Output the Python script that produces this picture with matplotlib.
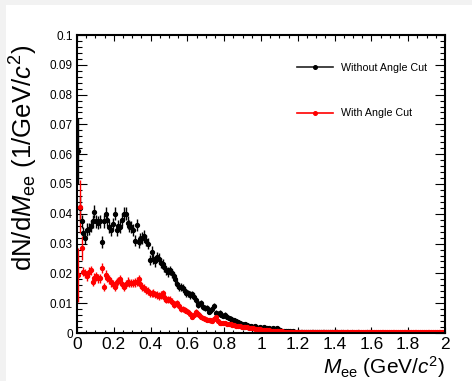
import numpy as np
import matplotlib
matplotlib.use("Agg")
from matplotlib import pyplot as plt
from matplotlib.lines import Line2D
from matplotlib.patches import Rectangle
from matplotlib.ticker import MultipleLocator, FormatStrFormatter

plt.rcParams['font.family'] = ['Liberation Sans', 'DejaVu Sans']
plt.rcParams['mathtext.fontset'] = 'custom'
plt.rcParams['mathtext.rm'] = 'Liberation Sans'
plt.rcParams['mathtext.it'] = 'Liberation Sans:italic'

# dN/dMee histograms, 0.01 GeV/c^2 bins from 0 to 2
bin_width = 0.01
without_cut = [
    0.061, 0.042, 0.0375, 0.0335, 0.032, 0.0347, 0.035, 0.036, 0.0375, 0.0407,
    0.0375, 0.037, 0.0375, 0.0306, 0.0375, 0.040, 0.038, 0.0355, 0.0345, 0.0365,
    0.040, 0.0345, 0.036, 0.0355, 0.038, 0.040, 0.040, 0.037, 0.036, 0.0355,
    0.0345, 0.031, 0.0362, 0.0305, 0.0315, 0.032, 0.0325, 0.031, 0.030, 0.0245,
    0.0273, 0.025, 0.024, 0.0255, 0.025, 0.0235, 0.023, 0.022, 0.021, 0.0205,
    0.021, 0.020, 0.019, 0.018, 0.0165, 0.0155, 0.0155, 0.015, 0.014, 0.0133,
    0.0133, 0.0128, 0.013, 0.0122, 0.011, 0.0095, 0.0098, 0.010, 0.0088, 0.0083,
    0.0083, 0.0072, 0.0075, 0.008, 0.009, 0.0067, 0.0065, 0.0067, 0.0061, 0.0058,
    0.0061, 0.0055, 0.005, 0.0048, 0.0045, 0.0042, 0.004, 0.0036, 0.0033, 0.0031,
    0.0028, 0.003, 0.0026, 0.0022, 0.0024, 0.002, 0.0022, 0.0019, 0.0018, 0.002,
    0.0017, 0.0019, 0.0015, 0.0018, 0.0016, 0.0014, 0.0017, 0.0015, 0.0018, 0.0013,
    0.0009, 0.0008, 0.0007, 0.0008, 0.0006, 0.0007, 0.0005, 0.0006, 0.0005, 0.0004,
    0.0004, 0.0005, 0.0003, 0.0004, 0.0004, 0.0003, 0.0003, 0.0004, 0.0002, 0.0003,
    0.0003, 0.0002, 0.0003, 0.0002, 0.0003, 0.0002, 0.0002, 0.0003, 0.0002, 0.0002,
    0.0002, 0.0002, 0.0001, 0.0002, 0.0002, 0.0001, 0.0002, 0.0001, 0.0001, 0.0002,
    0.0001, 0.0001, 0.0002, 0.0001, 0.0001, 0.0001, 0.0001, 0.0002, 0.0001, 0.0001,
    0.0001, 0.0001, 0.0001, 0.0001, 0.0001, 0.0001, 0.00005, 0.0001, 0.0001, 0.00005,
    0.0001, 0.00005, 0.0001, 0.0001, 0.00005, 0.0001, 0.00005, 0.00005, 0.0001, 0.00005,
    0.00005, 0.0001, 0.00005, 0.00005, 0.0001, 0.00005, 0.00005, 0.00005, 0.0001, 0.00005,
    0.00005, 0.00005, 0.0001, 0.00005, 0.00005, 0.00005, 0.00005, 0.0001, 0.00005, 0.00005,
]
with_cut = [
    0.0195, 0.0424, 0.0285, 0.0206, 0.020, 0.019, 0.0205, 0.021, 0.0172, 0.0185,
    0.019, 0.0183, 0.0183, 0.0218, 0.0155, 0.0195, 0.0185, 0.018, 0.017, 0.0165,
    0.0155, 0.017, 0.0175, 0.018, 0.0165, 0.0155, 0.0165, 0.0172, 0.0168, 0.0167,
    0.0167, 0.017, 0.0172, 0.018, 0.0165, 0.0155, 0.015, 0.0145, 0.014, 0.0133,
    0.0133, 0.0135, 0.013, 0.0127, 0.0124, 0.0128, 0.0133, 0.012, 0.0111, 0.0113,
    0.0111, 0.0105, 0.0095, 0.0098, 0.010, 0.009, 0.008, 0.0082, 0.0077, 0.0075,
    0.0072, 0.0065, 0.0055, 0.0062, 0.007, 0.0065, 0.006, 0.0055, 0.005, 0.0048,
    0.0045, 0.0043, 0.0042, 0.004, 0.0048, 0.0055, 0.004, 0.0033, 0.0035, 0.0034,
    0.0033, 0.0031, 0.003, 0.0029, 0.0028, 0.0026, 0.0025, 0.0022, 0.0023, 0.0021,
    0.002, 0.0019, 0.0019, 0.0017, 0.0017, 0.0016, 0.0015, 0.0014, 0.0014, 0.0012,
    0.0011, 0.0010, 0.0010, 0.0009, 0.0009, 0.0008, 0.0008, 0.0007, 0.0007, 0.0006,
    0.0006, 0.0006, 0.0005, 0.0005, 0.0005, 0.0004, 0.0004, 0.0005, 0.0004, 0.0004,
    0.0004, 0.0003, 0.0004, 0.0003, 0.0003, 0.0004, 0.0003, 0.0003, 0.0003, 0.0003,
    0.0003, 0.0003, 0.0002, 0.0003, 0.0003, 0.0002, 0.0003, 0.0003, 0.0002, 0.0003,
    0.0003, 0.0002, 0.0003, 0.0002, 0.0003, 0.0003, 0.0002, 0.0003, 0.0002, 0.0003,
    0.0002, 0.0003, 0.0003, 0.0002, 0.0003, 0.0002, 0.0003, 0.0002, 0.0003, 0.0002,
    0.0003, 0.0002, 0.0002, 0.0003, 0.0002, 0.0003, 0.0002, 0.0002, 0.0003, 0.0002,
    0.0002, 0.0003, 0.0002, 0.0002, 0.0003, 0.0002, 0.0002, 0.0003, 0.0002, 0.0002,
    0.0003, 0.0002, 0.0002, 0.0002, 0.0003, 0.0002, 0.0002, 0.0002, 0.0003, 0.0002,
    0.0002, 0.0002, 0.0003, 0.0002, 0.0002, 0.0002, 0.0003, 0.0002, 0.0002, 0.0002,
]
# the lowest bins carry much larger uncertainties
without_cut_first_err = [0.011, 0.004]
with_cut_first_err = [0.009, 0.009, 0.004]
err_scale = 0.011  # sqrt(N) errors after normalisation

without_cut = np.array(without_cut)
with_cut = np.array(with_cut)
centers = (np.arange(len(without_cut)) + 0.5) * bin_width

err_without = err_scale * np.sqrt(without_cut)
err_without[:len(without_cut_first_err)] = without_cut_first_err
err_with = err_scale * np.sqrt(with_cut)
err_with[:len(with_cut_first_err)] = with_cut_first_err

fig = plt.figure(figsize=(4.72, 3.81), dpi=100, facecolor='#f2f2f2')
fig.patches.append(Rectangle((6 / 472, 0), 1, 1 - 5 / 381, transform=fig.transFigure,
                             facecolor='white', edgecolor='none', zorder=-10))
ax = fig.add_axes([77 / 472, 48 / 381, 368 / 472, 298 / 381])

ax.errorbar(centers, without_cut, yerr=err_without, xerr=bin_width / 2, fmt='o',
            color='black', ms=2.8, elinewidth=1.0, capsize=0)
ax.errorbar(centers, with_cut, yerr=err_with, xerr=bin_width / 2, fmt='o',
            color='red', ms=2.8, elinewidth=1.0, capsize=0)

ax.set_xlim(0, 2)
ax.set_ylim(0, 0.1)
ax.xaxis.set_major_locator(MultipleLocator(0.2))
ax.xaxis.set_minor_locator(MultipleLocator(0.05))
ax.yaxis.set_major_locator(MultipleLocator(0.01))
ax.yaxis.set_minor_locator(MultipleLocator(0.002))
ax.xaxis.set_major_formatter(FormatStrFormatter('%g'))
ax.yaxis.set_major_formatter(FormatStrFormatter('%g'))

for side in ax.spines.values():
    side.set_linewidth(1.5)
ax.tick_params(which='both', direction='in', top=True, right=True, width=0.8)
ax.tick_params(axis='x', which='major', length=4.5, labelsize=12.5, pad=3)
ax.tick_params(axis='x', which='minor', length=2.5)
ax.tick_params(axis='y', which='major', length=7, labelsize=8.5, pad=3)
ax.tick_params(axis='y', which='minor', length=3.5)

# titles sit at the far end of each axis
ax.set_ylabel(r'dN/d$M_{\rm ee}$ (1/GeV/$c^{2}$)', fontsize=18.5, ha='right')
ax.yaxis.set_label_coords(-0.10, 0.966)
ax.set_xlabel(r'$M_{\rm ee}$ (GeV/$c^{2}$)', fontsize=15, ha='right')
ax.xaxis.set_label_coords(1.0, -0.07)

handles = [Line2D([], [], color='#222222', lw=1.2, marker='o', ms=2.6, mfc='black', mec='black'),
           Line2D([], [], color='red', lw=1.2, marker='o', ms=2.6)]
ax.legend(handles, ['Without Angle Cut', 'With Angle Cut'], loc='upper left',
          bbox_to_anchor=(297 / 472, 1 - 63 / 381), bbox_transform=fig.transFigure,
          frameon=False, fontsize=7.7, handlelength=3.4, handletextpad=0.75,
          labelspacing=3.3, borderpad=0, borderaxespad=0)

fig.savefig('out.png', dpi=100, facecolor=fig.get_facecolor())
